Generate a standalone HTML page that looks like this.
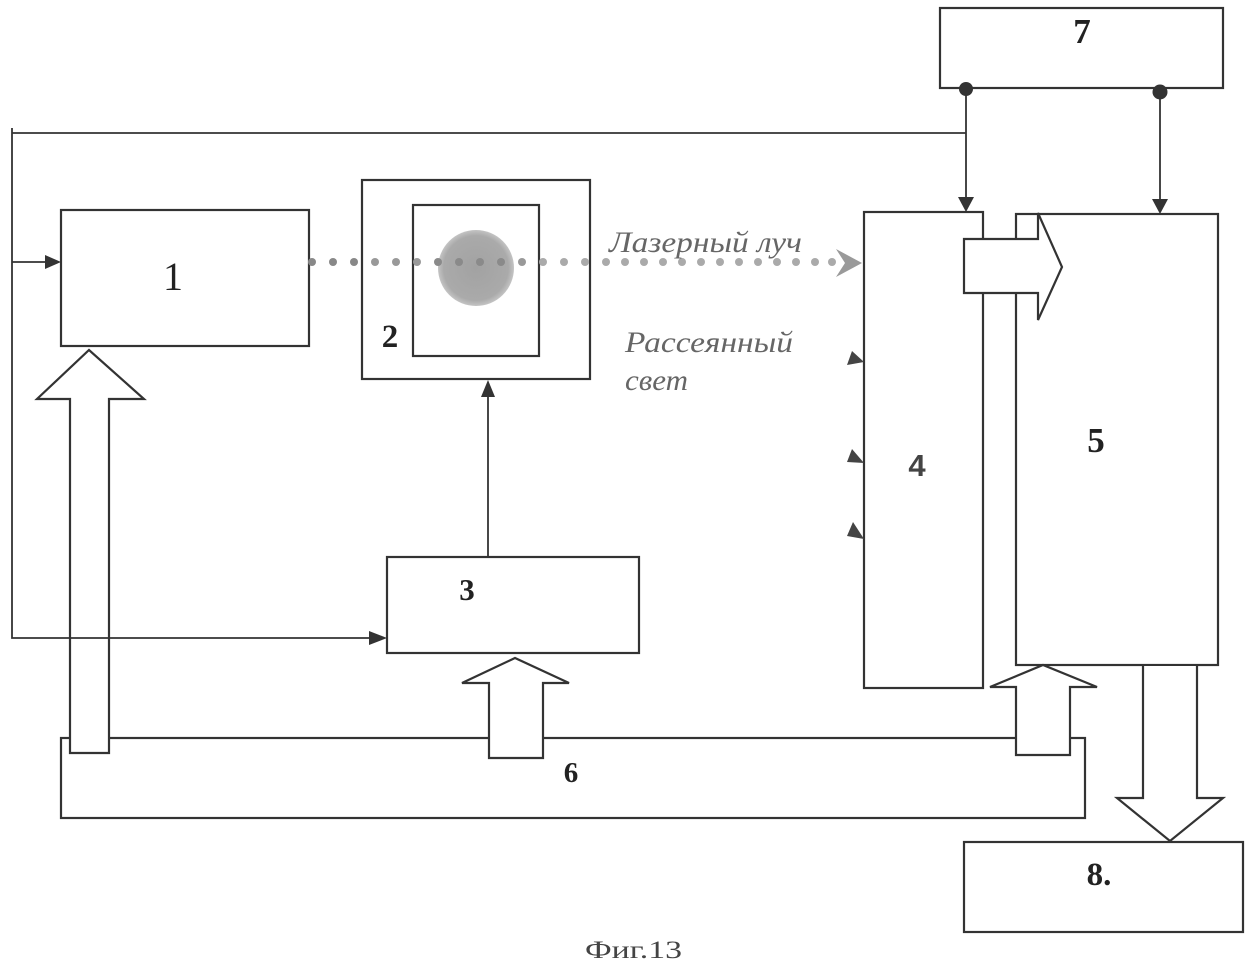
<!DOCTYPE html>
<html>
<head>
<meta charset="utf-8">
<style>
html,body{margin:0;padding:0;background:#fff;}
svg{display:block;}
</style>
</head>
<body>
<svg width="1258" height="976" viewBox="0 0 1258 976" xmlns="http://www.w3.org/2000/svg">
<defs>
<radialGradient id="g1" cx="50%" cy="50%" r="50%">
<stop offset="0" stop-color="#a2a2a2"/>
<stop offset="0.85" stop-color="#aaaaaa"/>
<stop offset="1" stop-color="#c4c4c4"/>
</radialGradient>
</defs>
<rect width="1258" height="976" fill="#fff"/>

<g fill="none" stroke="#333" stroke-width="2.2">
<rect x="940" y="8" width="283" height="80"/>
<rect x="61" y="210" width="248" height="136"/>
<rect x="362" y="180" width="228" height="199"/>
<rect x="413" y="205" width="126" height="151"/>
<rect x="387" y="557" width="252" height="96"/>
<rect x="864" y="212" width="119" height="476"/>
<rect x="1016" y="214" width="202" height="451"/>
<rect x="61" y="738" width="1024" height="80"/>
<rect x="964" y="842" width="279" height="90"/>
</g>

<circle cx="476" cy="268" r="38" fill="url(#g1)"/>

<g>
<circle cx="312" cy="262" r="4" fill="#888"/>
<circle cx="333" cy="262" r="4" fill="#888"/>
<circle cx="354" cy="262" r="4" fill="#888"/>
<circle cx="375" cy="262" r="4" fill="#999"/>
<circle cx="396" cy="262" r="4" fill="#999"/>
<circle cx="417" cy="262" r="4" fill="#999"/>
<circle cx="438" cy="262" r="4" fill="#8a8a8a"/>
<circle cx="459" cy="262" r="4" fill="#8a8a8a"/>
<circle cx="480" cy="262" r="4" fill="#8a8a8a"/>
<circle cx="501" cy="262" r="4" fill="#8a8a8a"/>
<circle cx="522" cy="262" r="4" fill="#999"/>
<circle cx="543" cy="262" r="4" fill="#aaa"/>
<circle cx="564" cy="262" r="4" fill="#aaa"/>
<circle cx="585" cy="262" r="4" fill="#aaa"/>
<circle cx="606" cy="262" r="4" fill="#aaa"/>
<circle cx="625" cy="262" r="4" fill="#aaa"/>
<circle cx="644" cy="262" r="4" fill="#aaa"/>
<circle cx="663" cy="262" r="4" fill="#aaa"/>
<circle cx="682" cy="262" r="4" fill="#aaa"/>
<circle cx="701" cy="262" r="4" fill="#aaa"/>
<circle cx="720" cy="262" r="4" fill="#aaa"/>
<circle cx="739" cy="262" r="4" fill="#aaa"/>
<circle cx="758" cy="262" r="4" fill="#aaa"/>
<circle cx="777" cy="262" r="4" fill="#aaa"/>
<circle cx="796" cy="262" r="4" fill="#aaa"/>
<circle cx="815" cy="262" r="4" fill="#aaa"/>
<circle cx="832" cy="262" r="4" fill="#aaa"/>
</g>
<polygon points="836,249 862,263 836,277 845,263" fill="#9a9a9a"/>

<g fill="#fff" stroke="#333" stroke-width="2.2" stroke-linejoin="miter">
<polygon points="70,753 70,399 37,399 89,350 144,399 109,399 109,753"/>
<polygon points="489,758 489,683 462,683 515,658 569,683 543,683 543,758"/>
<polygon points="1016,755 1016,687 990,687 1043,665 1097,687 1070,687 1070,755"/>
<polygon points="964,239 1038,239 1038,213 1062,267 1038,320 1038,293 964,293"/>
</g>
<polygon points="1143,666 1143,798 1117,798 1170,841 1223,798 1197,798 1197,666" fill="#fff" stroke="none"/>
<polyline points="1143,665 1143,798 1117,798 1170,841 1223,798 1197,798 1197,665" fill="none" stroke="#333" stroke-width="2.2"/>

<g fill="none" stroke="#333" stroke-width="1.8">
<polyline points="12,128 12,638 370,638"/>
<line x1="12" y1="133" x2="966" y2="133"/>
<line x1="12" y1="262" x2="46" y2="262"/>
<line x1="966" y1="88" x2="966" y2="198"/>
<line x1="1160" y1="91" x2="1160" y2="200"/>
<line x1="488" y1="557" x2="488" y2="396"/>
</g>
<g fill="#333">
<polygon points="61,262 45,255 45,269"/>
<polygon points="387,638 369,631 369,645"/>
<polygon points="966,212 958,197 974,197"/>
<polygon points="1160,214 1152,199 1168,199"/>
<polygon points="488,380 481,397 495,397"/>
<circle cx="966" cy="89" r="7"/>
<circle cx="1160" cy="92" r="7.5"/>
</g>
<g fill="#444">
<polygon points="847,365 852,351 864,362"/>
<polygon points="847,462 852,449 864,463"/>
<polygon points="847,536 853,522 864,539"/>
</g>

<g font-family="'Liberation Serif', serif" fill="#222" text-anchor="middle">
<text x="173" y="290" font-size="40">1</text>
<text x="390" y="347" font-size="33" font-weight="bold">2</text>
<text x="467" y="600" font-size="31" font-weight="bold">3</text>
<text x="1096" y="452" font-size="35" font-weight="bold">5</text>
<text x="571" y="782" font-size="29" font-weight="bold">6</text>
<text x="1082" y="43" font-size="35" font-weight="bold">7</text>
<text x="1099" y="885" font-size="33" font-weight="bold">8.</text>
</g>
<text x="917" y="476" font-family="'Liberation Sans', sans-serif" font-size="31" font-weight="bold" fill="#444" text-anchor="middle">4</text>

<g font-family="'Liberation Serif', serif" font-style="italic" fill="#666" font-size="30">
<text x="609" y="252" textLength="193" lengthAdjust="spacingAndGlyphs">Лазерный луч</text>
<text x="625" y="352" textLength="168" lengthAdjust="spacingAndGlyphs">Рассеянный</text>
<text x="625" y="390" textLength="63" lengthAdjust="spacingAndGlyphs">свет</text>
</g>

<text x="585" y="958" font-family="'Liberation Serif', serif" font-size="25" fill="#444" textLength="97" lengthAdjust="spacingAndGlyphs">Фиг.13</text>
</svg>
</body>
</html>
